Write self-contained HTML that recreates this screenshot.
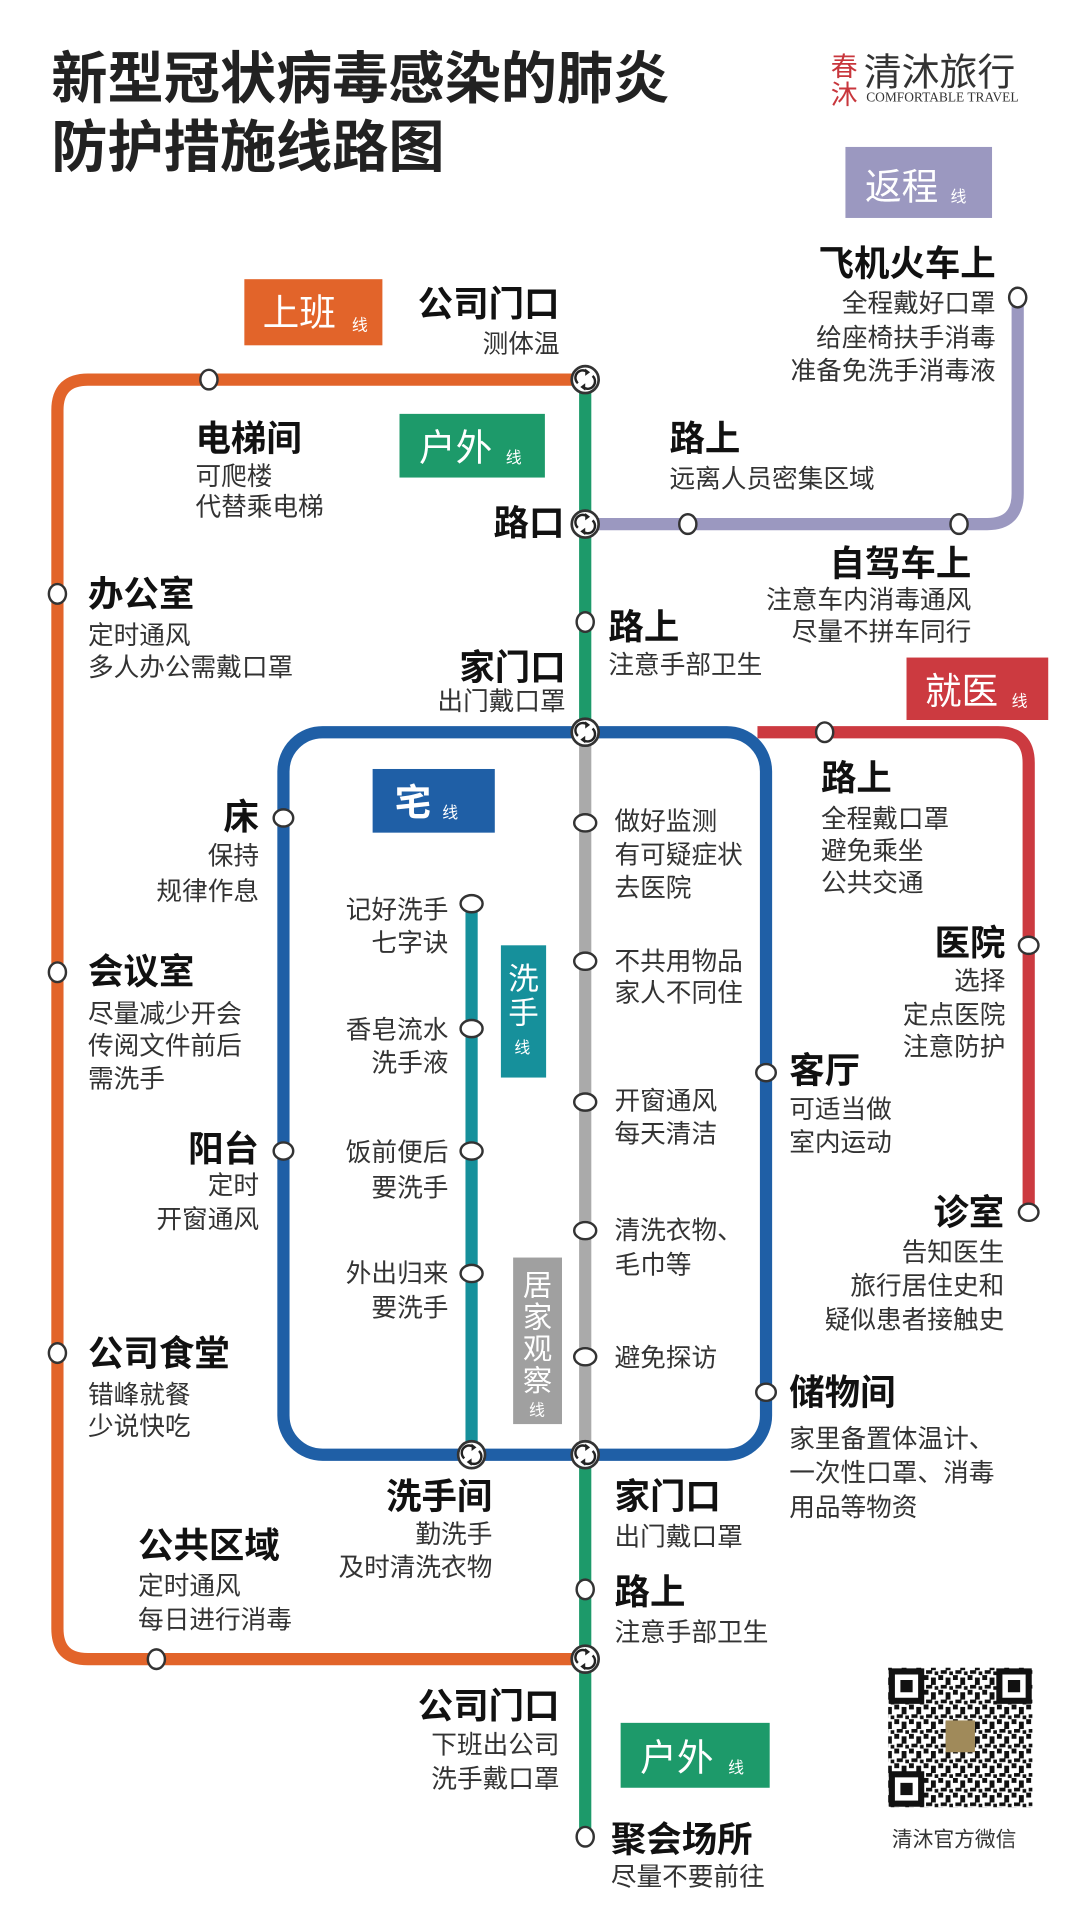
<!DOCTYPE html>
<html><head><meta charset="utf-8"><style>
html,body{margin:0;padding:0;background:#fff;}
svg{display:block;}
text{font-family:"Liberation Sans","Noto Sans CJK SC",sans-serif;fill:#222;}
.b{font-weight:bold;font-size:29px;fill:#111;}
.s{font-size:21px;fill:#333;}
.r{text-anchor:end;}
.w{fill:#fff;}
.st{fill:#fff;stroke:#333;stroke-width:2;}
</style></head><body>
<svg width="1080" height="1920" viewBox="0 0 884 1568" preserveAspectRatio="none" xmlns="http://www.w3.org/2000/svg">
<defs>
<g id="ic"><circle r="11" fill="#fff" stroke="#333" stroke-width="2.2"/>
<path d="M-6,3 A6,6 0 0 1 2,-6" fill="none" stroke="#222" stroke-width="2"/><path d="M0,-9 L4,-6 L0,-3z" fill="#222"/>
<path d="M6,-3 A6,6 0 0 1 -2,6" fill="none" stroke="#222" stroke-width="2"/><path d="M0,9 L-4,6 L0,3z" fill="#222"/></g>
<pattern id="qr" width="12" height="12" patternUnits="userSpaceOnUse">
<rect width="12" height="12" fill="#fff"/><rect x="0" y="0" width="4" height="4" fill="#111"/><rect x="6" y="2" width="4" height="6" fill="#111"/><rect x="2" y="8" width="5" height="3" fill="#111"/><rect x="9" y="9" width="3" height="3" fill="#111"/></pattern>
</defs>
<rect width="884" height="1568" fill="#fff"/>
<text x="42" y="80" style="font-size:46px;font-weight:bold;fill:#222">新型冠状病毒感染的肺炎</text>
<text x="42" y="136" style="font-size:46px;font-weight:bold;fill:#222">防护措施线路图</text>
<text x="680" y="62" style="font-size:22px;fill:#c8363c">春</text>
<text x="680" y="85" style="font-size:22px;fill:#c8363c">沐</text>
<text x="707" y="70" style="font-size:31px;fill:#333">清沐旅行</text>
<text x="709" y="83" style="font-size:11px;font-family:'Liberation Serif',serif;fill:#333">COMFORTABLE TRAVEL</text>
<g fill="none" stroke-width="10">
<path d="M479,310 H72 Q47,310 47,335 V1330 Q47,1355 72,1355 H479" stroke="#e2642a"/>
<path d="M479,428 H808 Q833,428 833,403 V243" stroke="#9b98c0"/>
<path d="M620,598 H817 Q842,598 842,623 V990" stroke="#cc3a40"/>
<path d="M479,310 V598 M479,1188 V1500" stroke="#1d9a6a"/>
<path d="M479,598 V1188" stroke="#aaaaaa"/>
<path d="M386,738 V1188" stroke="#16909b"/>
<rect x="232" y="598" width="395" height="590" rx="32" stroke="#1f5fa6"/>
</g>
<g class="st">
<ellipse cx="171" cy="310" rx="7" ry="8"/><ellipse cx="47" cy="485" rx="7" ry="8"/><ellipse cx="47" cy="794" rx="7" ry="8"/><ellipse cx="47" cy="1105" rx="7" ry="8"/><ellipse cx="128" cy="1355" rx="7" ry="8"/>
<ellipse cx="232" cy="668" rx="8" ry="7"/><ellipse cx="232" cy="940" rx="8" ry="7"/><ellipse cx="627" cy="876" rx="8" ry="7"/><ellipse cx="627" cy="1137" rx="8" ry="7"/>
<ellipse cx="675" cy="598" rx="7" ry="8"/><ellipse cx="842" cy="772" rx="8" ry="7"/><ellipse cx="842" cy="990" rx="8" ry="7"/>
<ellipse cx="833" cy="243" rx="7" ry="8"/><ellipse cx="563" cy="428" rx="7" ry="8"/><ellipse cx="785" cy="428" rx="7" ry="8"/>
<ellipse cx="479" cy="508" rx="7" ry="8"/><ellipse cx="479" cy="1298" rx="7" ry="8"/><ellipse cx="479" cy="1500" rx="7" ry="8"/>
<ellipse cx="479" cy="672" rx="9" ry="7"/><ellipse cx="479" cy="785" rx="9" ry="7"/><ellipse cx="479" cy="900" rx="9" ry="7"/><ellipse cx="479" cy="1005" rx="9" ry="7"/><ellipse cx="479" cy="1108" rx="9" ry="7"/>
<ellipse cx="386" cy="738" rx="9" ry="7"/><ellipse cx="386" cy="840" rx="9" ry="7"/><ellipse cx="386" cy="940" rx="9" ry="7"/><ellipse cx="386" cy="1040" rx="9" ry="7"/>
</g>
<use href="#ic" x="479" y="310"/><use href="#ic" x="479" y="428"/><use href="#ic" x="479" y="598"/><use href="#ic" x="386" y="1188"/><use href="#ic" x="479" y="1188"/><use href="#ic" x="479" y="1355"/>
<rect x="692" y="120" width="120" height="58" fill="#9b98c0"/><text x="708" y="163" style="font-size:30px;fill:#fff">返程</text><text x="778" y="165" style="font-size:13px;fill:#fff">线</text>
<rect x="200" y="228" width="113" height="54" fill="#e2642a"/><text x="215" y="266" style="font-size:30px;fill:#fff">上班</text><text x="288" y="270" style="font-size:13px;fill:#fff">线</text>
<rect x="327" y="338" width="119" height="52" fill="#1d9a6a"/><text x="343" y="376" style="font-size:30px;fill:#fff">户外</text><text x="414" y="378" style="font-size:13px;fill:#fff">线</text>
<rect x="742" y="537" width="116" height="51" fill="#cc3a40"/><text x="757" y="575" style="font-size:30px;fill:#fff">就医</text><text x="828" y="577" style="font-size:13px;fill:#fff">线</text>
<rect x="305" y="628" width="100" height="52" fill="#1f5fa6"/><text x="323" y="666" style="font-size:30px;fill:#fff;font-weight:bold">宅</text><text x="362" y="668" style="font-size:13px;fill:#fff">线</text>
<rect x="410" y="772" width="37" height="108" fill="#16909b"/><text x="416" y="808" style="font-size:25px;fill:#fff">洗</text><text x="416" y="836" style="font-size:25px;fill:#fff">手</text><text x="421" y="860" style="font-size:13px;fill:#fff">线</text>
<rect x="420" y="1027" width="40" height="136" fill="#a0a0a0"/><text x="428" y="1058" style="font-size:24px;fill:#fff">居</text><text x="428" y="1084" style="font-size:24px;fill:#fff">家</text><text x="428" y="1110" style="font-size:24px;fill:#fff">观</text><text x="428" y="1136" style="font-size:24px;fill:#fff">察</text><text x="433" y="1156" style="font-size:13px;fill:#fff">线</text>
<rect x="508" y="1407" width="122" height="53" fill="#1d9a6a"/><text x="524" y="1446" style="font-size:30px;fill:#fff">户外</text><text x="596" y="1448" style="font-size:13px;fill:#fff">线</text>
<text x="815" y="225" class="b r">飞机火车上</text>
<text x="815" y="255" class="s r">全程戴好口罩</text><text x="815" y="283" class="s r">给座椅扶手消毒</text><text x="815" y="310" class="s r">准备免洗手消毒液</text>
<text x="458" y="258" class="b r">公司门口</text><text x="458" y="288" class="s r">测体温</text>
<text x="160" y="368" class="b">电梯间</text><text x="160" y="396" class="s">可爬楼</text><text x="160" y="421" class="s">代替乘电梯</text>
<text x="548" y="368" class="b">路上</text><text x="548" y="398" class="s">远离人员密集区域</text>
<text x="462" y="437" class="b r">路口</text>
<text x="795" y="470" class="b r">自驾车上</text><text x="795" y="497" class="s r">注意车内消毒通风</text><text x="795" y="523" class="s r">尽量不拼车同行</text>
<text x="72" y="495" class="b">办公室</text><text x="72" y="526" class="s">定时通风</text><text x="72" y="552" class="s">多人办公需戴口罩</text>
<text x="498" y="522" class="b">路上</text><text x="498" y="550" class="s">注意手部卫生</text>
<text x="463" y="555" class="b r">家门口</text><text x="463" y="580" class="s r">出门戴口罩</text>
<text x="672" y="645" class="b">路上</text><text x="672" y="676" class="s">全程戴口罩</text><text x="672" y="702" class="s">避免乘坐</text><text x="672" y="728" class="s">公共交通</text>
<text x="212" y="677" class="b r">床</text><text x="212" y="706" class="s r">保持</text><text x="212" y="735" class="s r">规律作息</text>
<text x="503" y="678" class="s">做好监测</text><text x="503" y="705" class="s">有可疑症状</text><text x="503" y="732" class="s">去医院</text>
<text x="367" y="750" class="s r">记好洗手</text><text x="367" y="777" class="s r">七字诀</text>
<text x="823" y="780" class="b r">医院</text><text x="823" y="808" class="s r">选择</text><text x="823" y="836" class="s r">定点医院</text><text x="823" y="862" class="s r">注意防护</text>
<text x="72" y="803" class="b">会议室</text><text x="72" y="835" class="s">尽量减少开会</text><text x="72" y="861" class="s">传阅文件前后</text><text x="72" y="888" class="s">需洗手</text>
<text x="503" y="792" class="s">不共用物品</text><text x="503" y="818" class="s">家人不同住</text>
<text x="367" y="848" class="s r">香皂流水</text><text x="367" y="875" class="s r">洗手液</text>
<text x="646" y="884" class="b">客厅</text><text x="646" y="913" class="s">可适当做</text><text x="646" y="940" class="s">室内运动</text>
<text x="503" y="906" class="s">开窗通风</text><text x="503" y="933" class="s">每天清洁</text>
<text x="212" y="948" class="b r">阳台</text><text x="212" y="975" class="s r">定时</text><text x="212" y="1003" class="s r">开窗通风</text>
<text x="367" y="948" class="s r">饭前便后</text><text x="367" y="977" class="s r">要洗手</text>
<text x="822" y="1000" class="b r">诊室</text><text x="822" y="1030" class="s r">告知医生</text><text x="822" y="1057" class="s r">旅行居住史和</text><text x="822" y="1085" class="s r">疑似患者接触史</text>
<text x="503" y="1012" class="s">清洗衣物、</text><text x="503" y="1040" class="s">毛巾等</text>
<text x="367" y="1047" class="s r">外出归来</text><text x="367" y="1075" class="s r">要洗手</text>
<text x="72" y="1115" class="b">公司食堂</text><text x="72" y="1146" class="s">错峰就餐</text><text x="72" y="1172" class="s">少说快吃</text>
<text x="503" y="1116" class="s">避免探访</text>
<text x="646" y="1147" class="b">储物间</text><text x="646" y="1182" class="s">家里备置体温计、</text><text x="646" y="1210" class="s">一次性口罩、消毒</text><text x="646" y="1238" class="s">用品等物资</text>
<text x="403" y="1232" class="b r">洗手间</text><text x="403" y="1260" class="s r">勤洗手</text><text x="403" y="1287" class="s r">及时清洗衣物</text>
<text x="503" y="1232" class="b">家门口</text><text x="503" y="1262" class="s">出门戴口罩</text>
<text x="113" y="1272" class="b">公共区域</text><text x="113" y="1302" class="s">定时通风</text><text x="113" y="1330" class="s">每日进行消毒</text>
<text x="503" y="1310" class="b">路上</text><text x="503" y="1340" class="s">注意手部卫生</text>
<text x="458" y="1403" class="b r">公司门口</text><text x="458" y="1432" class="s r">下班出公司</text><text x="458" y="1460" class="s r">洗手戴口罩</text>
<text x="500" y="1512" class="b">聚会场所</text><text x="500" y="1540" class="s">尽量不要前往</text>
<rect x="727" y="1362" width="118" height="114" fill="url(#qr)"/>
<g fill="#fff" stroke="#111" stroke-width="5"><rect x="730" y="1365" width="24" height="24"/><rect x="818" y="1365" width="24" height="24"/><rect x="730" y="1449" width="24" height="24"/></g>
<g fill="#111"><rect x="737" y="1372" width="10" height="10"/><rect x="825" y="1372" width="10" height="10"/><rect x="737" y="1456" width="10" height="10"/></g>
<rect x="774" y="1405" width="24" height="26" fill="#a08a5a"/>
<text x="730" y="1508" style="font-size:17px;fill:#333">清沐官方微信</text>
</svg>
</body></html>
